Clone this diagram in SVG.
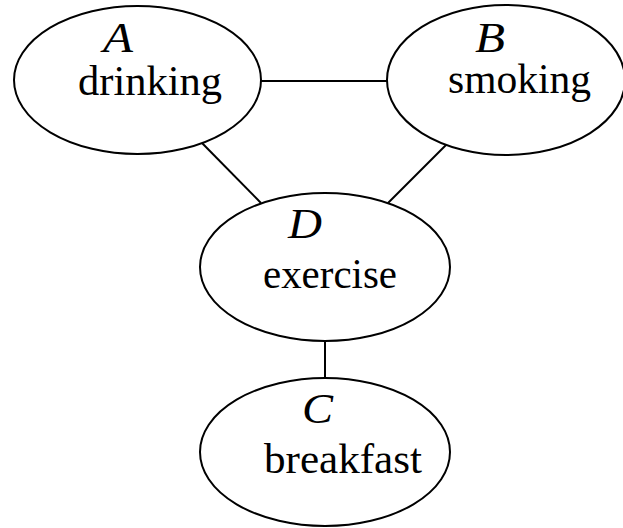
<svg xmlns="http://www.w3.org/2000/svg" width="623" height="528" viewBox="0 0 623 528">
  <style>
    .node { fill: #ffffff; stroke: #000000; stroke-width: 2; }
    .edge { stroke: #000000; stroke-width: 2; fill: none; }
    .var { font-family: "Liberation Serif", "Times New Roman", serif; font-style: italic; font-size: 42px; fill: #000000; }
    .name { font-family: "Liberation Serif", "Times New Roman", serif; font-size: 42px; fill: #000000; }
  </style>
  <rect width="623" height="528" fill="#ffffff"/>
  <g id="connectors">
    <line class="edge" x1="261" y1="81" x2="387" y2="81"/>
    <line class="edge" x1="202" y1="143" x2="261" y2="203"/>
    <line class="edge" x1="447" y1="144" x2="388" y2="203"/>
    <line class="edge" x1="325" y1="341" x2="325" y2="378"/>
  </g>
  <g id="node-A">
    <ellipse class="node" cx="137.5" cy="80" rx="123.5" ry="74"/>
    <text class="var" x="103" y="52" textLength="30" lengthAdjust="spacingAndGlyphs">A</text>
    <text class="name" x="78" y="95" textLength="144" lengthAdjust="spacingAndGlyphs">drinking</text>
  </g>
  <g id="node-B">
    <ellipse class="node" cx="506" cy="80" rx="119" ry="75"/>
    <text class="var" x="475" y="52" textLength="30" lengthAdjust="spacingAndGlyphs">B</text>
    <text class="name" x="448" y="93" textLength="143" lengthAdjust="spacingAndGlyphs">smoking</text>
  </g>
  <g id="node-D">
    <ellipse class="node" cx="325" cy="267" rx="125" ry="74"/>
    <text class="var" x="288" y="238" textLength="34" lengthAdjust="spacingAndGlyphs">D</text>
    <text class="name" x="263" y="288" textLength="134" lengthAdjust="spacingAndGlyphs">exercise</text>
  </g>
  <g id="node-C">
    <ellipse class="node" cx="325" cy="452" rx="125" ry="74"/>
    <text class="var" x="302" y="423" textLength="31" lengthAdjust="spacingAndGlyphs">C</text>
    <text class="name" x="264" y="473" textLength="158" lengthAdjust="spacingAndGlyphs">breakfast</text>
  </g>
</svg>
